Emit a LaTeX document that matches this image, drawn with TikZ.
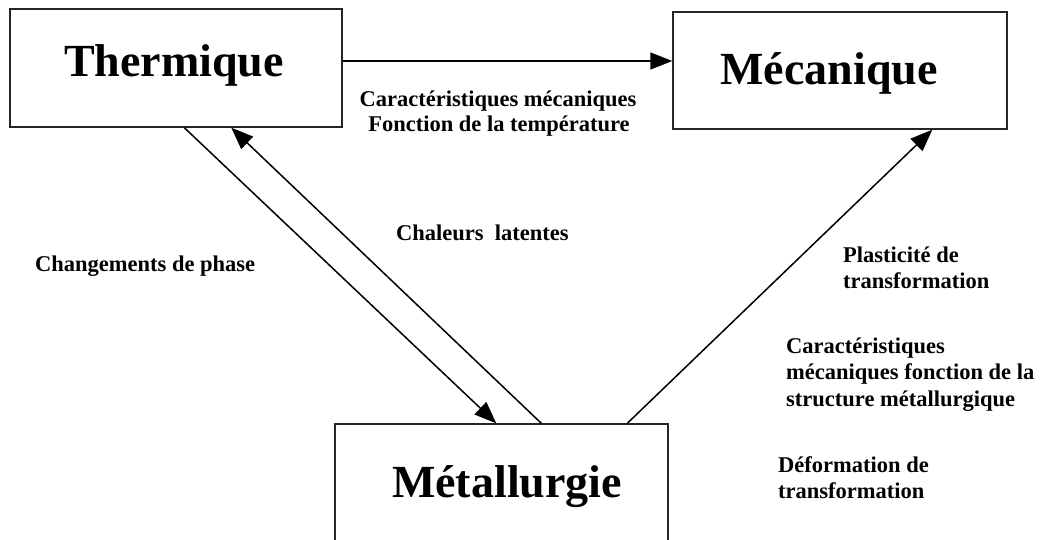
\documentclass[tikz,border=0pt]{standalone}
\usepackage{fontspec}
\setmainfont{Liberation Serif}
\usetikzlibrary{arrows.meta}
\tikzset{
  boxnode/.style={draw=black!85, line width=1.4pt, rectangle, inner sep=0pt},
  titlenode/.style={font=\bfseries\fontsize{46}{50}\selectfont, inner sep=0pt, anchor=base},
  lbl/.style={font=\bfseries\fontsize{22.5}{26}\selectfont, inner sep=0pt, anchor=base west},
  lblc/.style={font=\bfseries\fontsize{22.5}{26}\selectfont, inner sep=0pt, anchor=base},
  conn/.style={line width=1.5pt, -{Triangle[length=22pt,width=17pt]}}
}
\begin{document}
\begin{tikzpicture}[x=1pt,y=-1pt]
\useasboundingbox (0,0) rectangle (1042,540);
% boxes
\node[boxnode, minimum width=332pt, minimum height=118pt] (th) at (176,68) {};
\node[boxnode, minimum width=334pt, minimum height=117pt] (me) at (840,70.5) {};
\node[boxnode, minimum width=333pt, minimum height=140pt] (mt) at (501.5,494) {};
% titles
\node[titlenode] (tht) at (174,77) {Thermique};
\node[titlenode] (met) at (829,85) {Mécanique};
\node[titlenode] (mtt) at (507,497) {Métallurgie};
% connectors
\draw[conn] ([yshift=7pt]th.east) -- ([yshift=9.5pt]me.west);
\draw[conn] ([xshift=175pt]th.south west) -- ([xshift=162pt]mt.north west);
\draw[conn] ([xshift=207pt]mt.north west) -- ([xshift=222pt]th.south west);
\draw[conn] ([xshift=293pt]mt.north west) -- ([xshift=260pt]me.south west);
% labels
\node[lblc] (l1a) at (498,107) {Caractéristiques mécaniques};
\node[lblc] (l1b) at (499,132) {Fonction de la température};
\node[lbl] (l2) at (396,241) {Chaleurs\ \ latentes};
\node[lbl] (l3) at (35,272) {Changements de phase};
\node[lbl] (l4a) at (843,263) {Plasticité de};
\node[lbl] (l4b) at (843,289) {transformation};
\node[lbl] (l5a) at (786,353) {Caractéristiques};
\node[lbl] (l5b) at (786,379) {mécaniques fonction de la};
\node[lbl] (l5c) at (786,406) {structure métallurgique};
\node[lbl] (l6a) at (778,472) {Déformation de};
\node[lbl] (l6b) at (778,498) {transformation};
\end{tikzpicture}
\end{document}
